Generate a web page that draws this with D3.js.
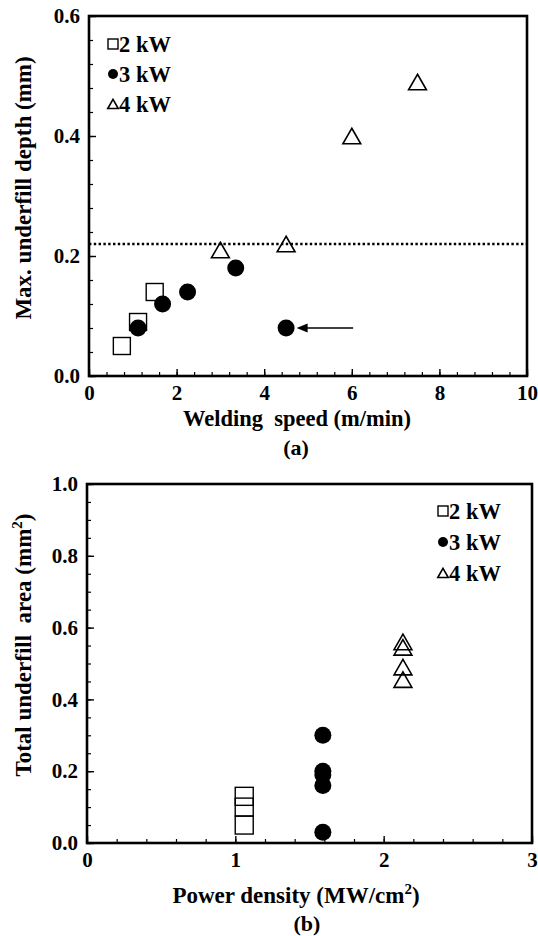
<!DOCTYPE html>
<html>
<head>
<meta charset="utf-8">
<script src="https://cdn.jsdelivr.net/npm/d3@7"></script>
<style>
  body { margin: 0; background: #fff; }
  svg text { font-family: "Liberation Serif", "Times New Roman", serif; font-weight: bold; fill: #000; }
</style>
</head>
<body>
<div class="chart"></div>
<script>
// panel (a): max underfill depth vs welding speed
const speed2kW = [0.75, 1.12, 1.5];
const depth2kW = [0.05, 0.09, 0.14];
const speed3kW = [1.12, 1.68, 2.25, 3.35, 4.5];
const depth3kW = [0.08, 0.12, 0.14, 0.18, 0.08];
const speed4kW = [3.0, 4.5, 6.0, 7.5];
const depth4kW = [0.21, 0.22, 0.40, 0.49];
const depthLimit = 0.22;
const arrowFrom = [6.03, 0.08];
const arrowTo = [4.74, 0.08];

// panel (b): total underfill area vs power density
const dens2kW = [1.06, 1.06, 1.06];
const area2kW = [0.13, 0.10, 0.05];
const dens3kW = [1.59, 1.59, 1.59, 1.59, 1.59];
const area3kW = [0.30, 0.20, 0.19, 0.16, 0.03];
const dens4kW = [2.13, 2.13, 2.13, 2.13];
const area4kW = [0.56, 0.545, 0.49, 0.455];

const legendLabels = ["2 kW", "3 kW", "4 kW"];
const ticksA_x = [0, 2, 4, 6, 8, 10];
const ticksA_y = [0, 0.2, 0.4, 0.6];
const ticksB_x = [0, 1, 2, 3];
const ticksB_y = [0, 0.2, 0.4, 0.6, 0.8, 1.0];

const svg = d3.select(".chart").append("svg")
  .attr("width", 538)
  .attr("height", 936);

function trianglePath(s) {
  const h = s * 0.87;
  return `M0,${-h / 2}L${s / 2},${h / 2}L${-s / 2},${h / 2}Z`;
}

function drawMarker(g, kind, x, y, size) {
  if (kind === 0) {
    g.append("rect")
      .attr("x", x - size / 2).attr("y", y - size / 2)
      .attr("width", size).attr("height", size)
      .attr("fill", "none").attr("stroke", "#000").attr("stroke-width", 1.4);
  } else if (kind === 1) {
    g.append("circle")
      .attr("cx", x).attr("cy", y).attr("r", size / 2)
      .attr("fill", "#000");
  } else {
    g.append("path")
      .attr("d", trianglePath(size * 1.05))
      .attr("transform", `translate(${x},${y})`)
      .attr("fill", "none").attr("stroke", "#000").attr("stroke-width", 1.6);
  }
}

function panel(box, xDomain, yDomain, xTicks, yTicks, xMinor, yMinor, xFmt, yFmt) {
  const x = d3.scaleLinear().domain(xDomain).range([box.x0, box.x1]);
  const y = d3.scaleLinear().domain(yDomain).range([box.y1, box.y0]);
  const g = svg.append("g");

  // minor ticks, pointing inward
  g.append("g").attr("transform", `translate(0,${box.y1})`)
    .call(d3.axisBottom(x).tickValues(d3.range(xDomain[0], xDomain[1] + 1e-9, xMinor)).tickSize(-4).tickFormat(""))
    .call(a => a.select(".domain").remove())
    .call(a => a.selectAll("line").attr("stroke-width", 1.2));
  g.append("g").attr("transform", `translate(${box.x0},0)`)
    .call(d3.axisLeft(y).tickValues(d3.range(yDomain[0], yDomain[1] + 1e-9, yMinor)).tickSize(-4).tickFormat(""))
    .call(a => a.select(".domain").remove())
    .call(a => a.selectAll("line").attr("stroke-width", 1.2));

  // major ticks + labels
  g.append("g").attr("transform", `translate(0,${box.y1})`)
    .call(d3.axisBottom(x).tickValues(xTicks).tickSize(-7).tickPadding(9).tickFormat(xFmt))
    .call(a => a.select(".domain").remove())
    .call(a => a.selectAll("line").attr("stroke-width", 1.4))
    .call(a => a.selectAll("text").attr("font-size", 21).attr("font-family", null));
  g.append("g").attr("transform", `translate(${box.x0},0)`)
    .call(d3.axisLeft(y).tickValues(yTicks).tickSize(-7).tickPadding(9).tickFormat(yFmt))
    .call(a => a.select(".domain").remove())
    .call(a => a.selectAll("line").attr("stroke-width", 1.4))
    .call(a => a.selectAll("text").attr("font-size", 21).attr("font-family", null));

  // frame
  g.append("rect")
    .attr("x", box.x0).attr("y", box.y0)
    .attr("width", box.x1 - box.x0).attr("height", box.y1 - box.y0)
    .attr("fill", "none").attr("stroke", "#000").attr("stroke-width", 2.6);

  return { x, y, g };
}

function legend(g, lx, ly, step) {
  legendLabels.forEach((lab, i) => {
    drawMarker(g, i, lx, ly + i * step, 10);
    g.append("text")
      .attr("x", lx + 6).attr("y", ly + i * step + 8)
      .attr("font-size", 22.5)
      .text(lab);
  });
}

// ---- panel (a)
const A = panel({ x0: 89, x1: 527, y0: 16, y1: 376 }, [0, 10], [0, 0.6],
  ticksA_x, ticksA_y, 0.4, 0.04, d3.format("d"), d3.format(".1f"));

A.g.append("line")
  .attr("x1", A.x(0)).attr("x2", A.x(10))
  .attr("y1", A.y(depthLimit)).attr("y2", A.y(depthLimit))
  .attr("stroke", "#000").attr("stroke-width", 2.6)
  .attr("stroke-dasharray", "2.4,2.4");

speed2kW.forEach((v, i) => drawMarker(A.g, 0, A.x(v), A.y(depth2kW[i]), 17));
speed4kW.forEach((v, i) => drawMarker(A.g, 2, A.x(v), A.y(depth4kW[i]), 17));
speed3kW.forEach((v, i) => drawMarker(A.g, 1, A.x(v), A.y(depth3kW[i]), 17));

// arrow pointing to the 4.5 m/min point
const ax0 = A.x(arrowFrom[0]), ax1 = A.x(arrowTo[0]), ay = A.y(arrowTo[1]);
A.g.append("line")
  .attr("x1", ax0).attr("x2", ax1 + 8).attr("y1", ay).attr("y2", ay)
  .attr("stroke", "#000").attr("stroke-width", 1.6);
A.g.append("path")
  .attr("d", `M${ax1},${ay}L${ax1 + 11},${ay - 4.5}L${ax1 + 11},${ay + 4.5}Z`)
  .attr("fill", "#000");

legend(A.g, 113, 44, 30);

svg.append("text")
  .attr("transform", `translate(31,188) rotate(-90)`)
  .attr("text-anchor", "middle").attr("font-size", 23)
  .attr("xml:space", "preserve")
  .text("Max. underfill depth (mm)");
svg.append("text")
  .attr("x", 297).attr("y", 426)
  .attr("text-anchor", "middle").attr("font-size", 22.5)
  .attr("xml:space", "preserve")
  .text("Welding  speed (m/min)");
svg.append("text")
  .attr("x", 296).attr("y", 455)
  .attr("text-anchor", "middle").attr("font-size", 22)
  .text("(a)");

// ---- panel (b)
const B = panel({ x0: 87, x1: 532, y0: 484, y1: 843 }, [0, 3], [0, 1.0],
  ticksB_x, ticksB_y, 0.2, 0.05, d3.format("d"), d3.format(".1f"));

dens2kW.forEach((v, i) => drawMarker(B.g, 0, B.x(v), B.y(area2kW[i]), 18));
dens4kW.forEach((v, i) => drawMarker(B.g, 2, B.x(v), B.y(area4kW[i]), 17));
dens3kW.forEach((v, i) => drawMarker(B.g, 1, B.x(v), B.y(area3kW[i]), 17));

legend(B.g, 443, 511, 31);

const yb = svg.append("text")
  .attr("transform", `translate(31,645) rotate(-90)`)
  .attr("text-anchor", "middle").attr("font-size", 23)
  .attr("xml:space", "preserve");
yb.append("tspan").text("Total underfill  area (mm");
yb.append("tspan").attr("dy", -9).attr("font-size", 15).text("2");
yb.append("tspan").attr("dy", 9).text(")");

const xb = svg.append("text")
  .attr("x", 296).attr("y", 903)
  .attr("text-anchor", "middle").attr("font-size", 23);
xb.append("tspan").text("Power density (MW/cm");
xb.append("tspan").attr("dy", -9).attr("font-size", 15).text("2");
xb.append("tspan").attr("dy", 9).text(")");

svg.append("text")
  .attr("x", 307).attr("y", 931)
  .attr("text-anchor", "middle").attr("font-size", 22)
  .text("(b)");
</script>
</body>
</html>
